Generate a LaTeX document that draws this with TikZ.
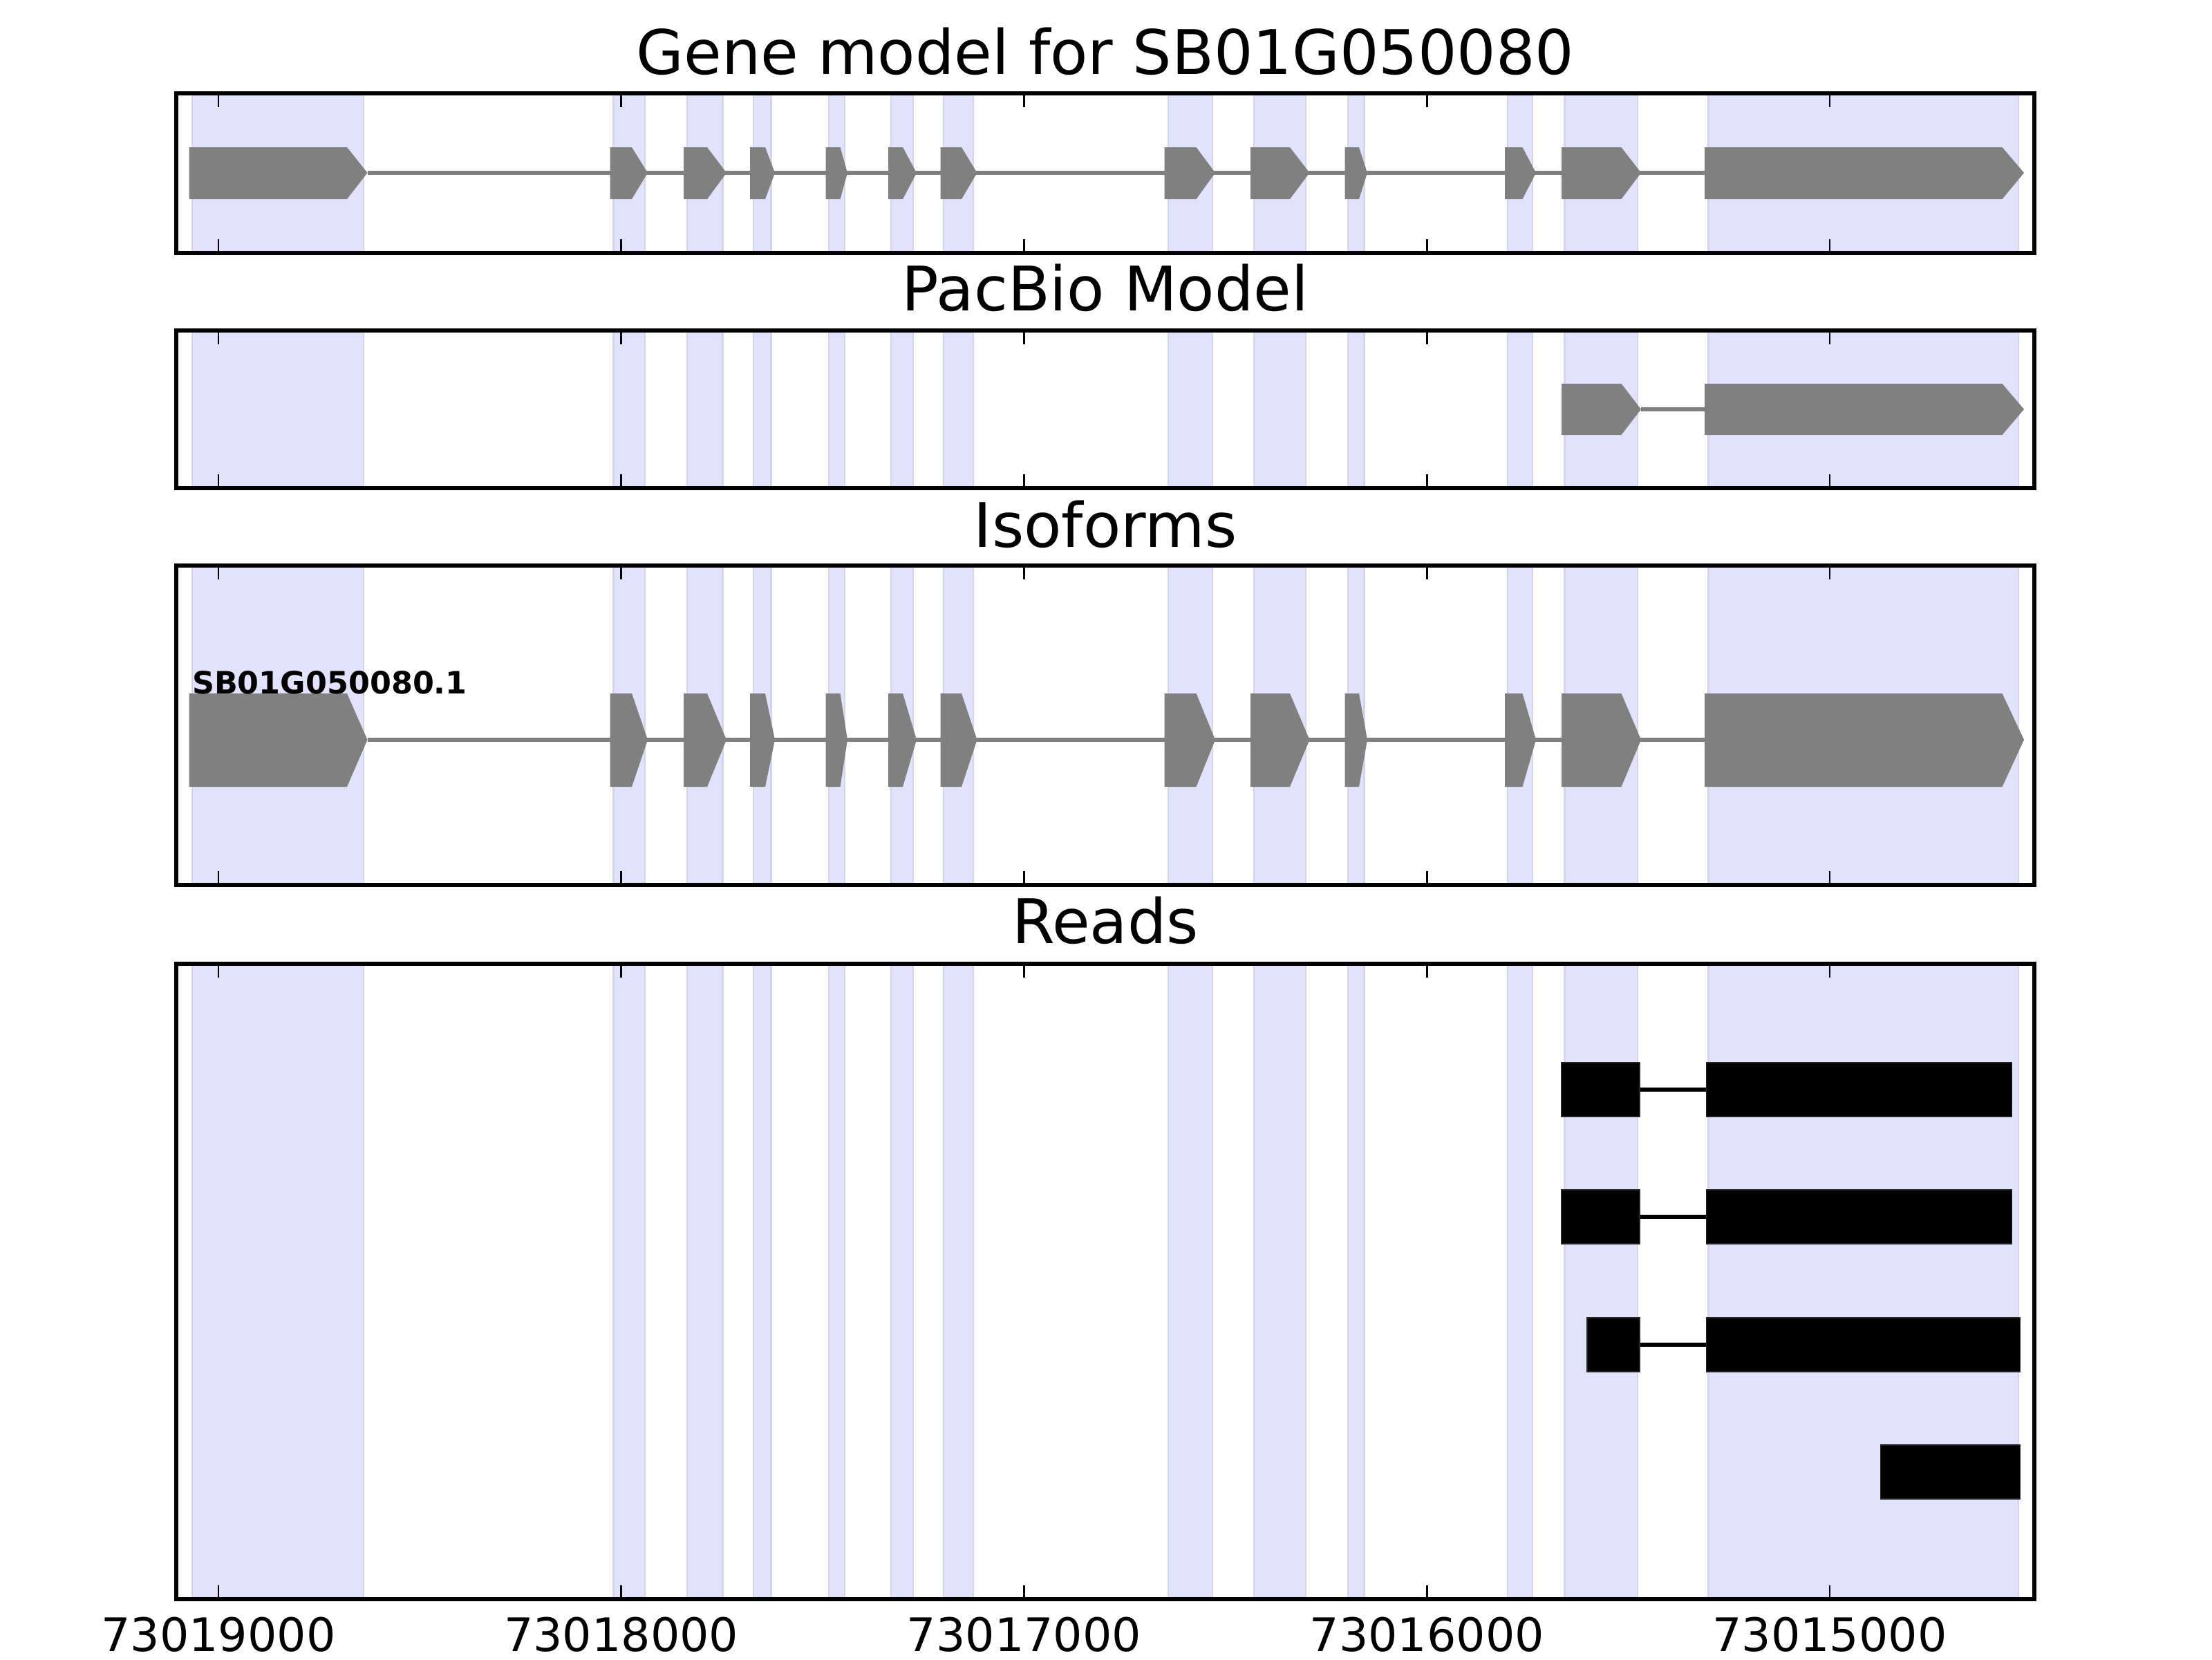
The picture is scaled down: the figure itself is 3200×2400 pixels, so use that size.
\documentclass[tikz,border=0pt]{standalone}
\usepackage{fontspec}
\setmainfont{DejaVu Sans}
\definecolor{spanfill}{RGB}{226,226,252}
\definecolor{spanedge}{RGB}{212,212,234}
\definecolor{exongray}{RGB}{128,128,128}
\begin{document}
\begin{tikzpicture}[x=0.18pt,y=-0.18pt,
  frameline/.style={line width=1pt,draw=black},
  tickmark/.style={line width=0.5pt,draw=black},
  intron/.style={draw=exongray,line width=1pt},
  exonpoly/.style={fill=exongray,draw=none},
  readblk/.style={fill=black,draw=black!85,line width=0.2pt},
  readline/.style={draw=black,line width=1pt},
  spanbox/.style={fill=spanfill,draw=spanedge,line width=0.5pt},
  paneltitle/.style={font=\fontsize{16}{19}\selectfont,anchor=base,inner sep=0pt},
  ticklabel/.style={font=\fontsize{12}{14}\selectfont,anchor=base,inner sep=0pt},
  isolabel/.style={font=\bfseries\fontsize{8}{10}\selectfont,anchor=base west,inner sep=0pt}]
\useasboundingbox (0,0) rectangle (3200,2400);
\fill[white] (0,0) rectangle (3200,2400);
\def\spans{278/526, 887.5/933, 994/1045.5, 1090/1115.5, 1199/1222, 1289/1321, 1365/1408, 1690/1754, 1814/1889, 1950/1973.5, 2181/2217, 2263.5/2369, 2471.5/2920}
\def\exonsall{273.5/502/531.5, 882.5/914/937, 989/1023/1051, 1085/1107/1121, 1194.5/1215.5/1226, 1285/1306/1326, 1360.5/1391/1413.5, 1684.5/1730.5/1758, 1809/1866/1894.5, 1945.5/1966/1978, 2177/2202.5/2222, 2259/2345.5/2374, 2466/2896.5/2928}
\def\exonspb{2259/2345.5/2374, 2466/2896.5/2928}
% shaded exon spans in every panel
\foreach \ya/\yb in {135/366, 478/706, 818/1280, 1394/2313}{
  \foreach \sl/\sr in \spans{
    \filldraw[spanbox] (\sl,\ya) rectangle (\sr,\yb);
  }
}
% panel 1: gene model
\draw[intron] (531.5,250) -- (2466,250);
\foreach \l/\r/\t in \exonsall{
  \fill[exonpoly] (\l,213) -- (\r,213) -- (\t,250) -- (\r,288) -- (\l,288) -- cycle;
}
% panel 2: PacBio model
\draw[intron] (2374,592) -- (2466,592);
\foreach \l/\r/\t in \exonspb{
  \fill[exonpoly] (\l,555) -- (\r,555) -- (\t,592) -- (\r,629) -- (\l,629) -- cycle;
}
% panel 3: isoforms
\draw[intron] (531.5,1070) -- (2466,1070);
\foreach \l/\r/\t in \exonsall{
  \fill[exonpoly] (\l,1003) -- (\r,1003) -- (\t,1070) -- (\r,1138) -- (\l,1138) -- cycle;
}
\node[isolabel] (iso) at (277,1003) {SB01G050080.1};
% panel 4: reads
\foreach \yc/\ra in {1576/2259, 1760/2259, 1945/2296}{
  \draw[readline] (2372,\yc) -- (2468.5,\yc);
  \filldraw[readblk] (\ra,\yc-39) rectangle (2372,\yc+39);
}
\filldraw[readblk] (2468.5,1537) rectangle (2910.5,1615);
\filldraw[readblk] (2468.5,1721) rectangle (2910.5,1799);
\filldraw[readblk] (2468.5,1906) rectangle (2922.5,1984);
\filldraw[readblk] (2720,2090) rectangle (2922.5,2168);
% frames and ticks
\foreach \ya/\yb in {135/366, 478/706, 818/1280, 1394/2313}{
  \foreach \tx in {316, 898.75, 1481.5, 2064.25, 2647}{
    \draw[tickmark] (\tx,\ya) -- (\tx,\ya+20);
    \draw[tickmark] (\tx,\yb) -- (\tx,\yb-20);
  }
  \draw[frameline] (255,\ya) rectangle (2943,\yb);
}
% titles
\node[paneltitle] (t1) at (1599,107) {Gene model for SB01G050080};
\node[paneltitle] (t2) at (1599,449) {PacBio Model};
\node[paneltitle] (t3) at (1599,791) {Isoforms};
\node[paneltitle] (t4) at (1599,1364) {Reads};
% tick labels
\node[ticklabel] (l1) at (316,2388) {73019000};
\node[ticklabel] (l2) at (898.75,2388) {73018000};
\node[ticklabel] (l3) at (1481.5,2388) {73017000};
\node[ticklabel] (l4) at (2064.25,2388) {73016000};
\node[ticklabel] (l5) at (2647,2388) {73015000};
\end{tikzpicture}
\end{document}
